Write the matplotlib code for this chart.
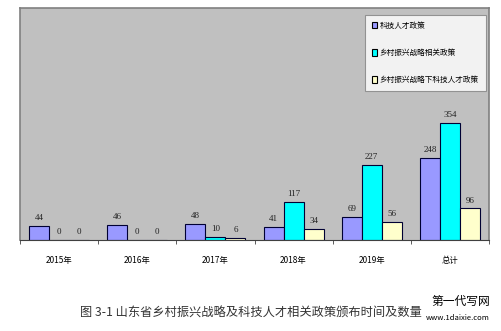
import matplotlib.pyplot as plt
import numpy as np

plt.rcParams['font.family'] = ['Noto Sans CJK SC', 'DejaVu Sans']

years = ['2015年', '2016年', '2017年', '2018年', '2019年', '总计']
talent = [44, 46, 48, 41, 69, 248]
rural = [0, 0, 10, 117, 227, 354]
rural_talent = [0, 0, 6, 34, 56, 96]
series_names = ['科技人才政策', '乡村振兴战略相关政策', '乡村振兴战略下科技人才政策']
colors = ['#9999FF', '#00FFFF', '#FFFFCC']

fig = plt.figure(figsize=(5.01, 3.31), dpi=100)
ax = fig.add_axes([0.04, 0.274, 0.936, 0.701])
ax.set_facecolor('#C0C0C0')

x = np.arange(len(years))
w = 0.256
for i, (vals, name, c) in enumerate(zip([talent, rural, rural_talent], series_names, colors)):
    pos = x + (i - 1) * w
    ax.bar(pos, vals, w, color=c, edgecolor='#000033', linewidth=0.8, label=name)
    for p, v in zip(pos, vals):
        ax.text(p, v + 12, str(v), ha='center', va='bottom', fontsize=6.5,
                family=['Liberation Serif', 'DejaVu Serif'], color='#222222')

ax.set_xlim(-0.5, len(years) - 0.5)
ax.set_ylim(0, 700)
ax.set_yticks([])
ax.set_xticks(np.arange(len(years) + 1) - 0.5, minor=True)
ax.set_xticks(x)
ax.set_xticklabels(years, fontsize=6)
ax.tick_params(axis='x', which='major', length=0, pad=11)
ax.tick_params(axis='x', which='minor', length=3, color='#404040')
for s in ['left', 'top', 'right']:
    ax.spines[s].set_color('#808080')
    ax.spines[s].set_linewidth(1.2)
ax.spines['bottom'].set_color('#404040')

leg = ax.legend(loc='upper left', bbox_to_anchor=(0.736, 0.971), fontsize=5.5,
                frameon=True, fancybox=False, edgecolor='#808080',
                labelspacing=2.5, handlelength=0.7, handleheight=0.9,
                handletextpad=0.3, borderpad=0.9, borderaxespad=0)
leg.get_frame().set_facecolor('white')
leg.get_frame().set_linewidth(0.8)
for h in leg.legend_handles:
    h.set_edgecolor('black')

fig.text(0.5, 0.055, '图 3-1 山东省乡村振兴战略及科技人才相关政策颁布时间及数量',
         ha='center', va='center', fontsize=8.8, color='#333333')
fig.text(0.978, 0.09, '第一代写网', ha='right', va='center', fontsize=8.5, color='black')
fig.text(0.978, 0.038, 'www.1daixie.com', ha='right', va='center', fontsize=5.5, color='black')

fig.savefig('out.png', dpi=100)
